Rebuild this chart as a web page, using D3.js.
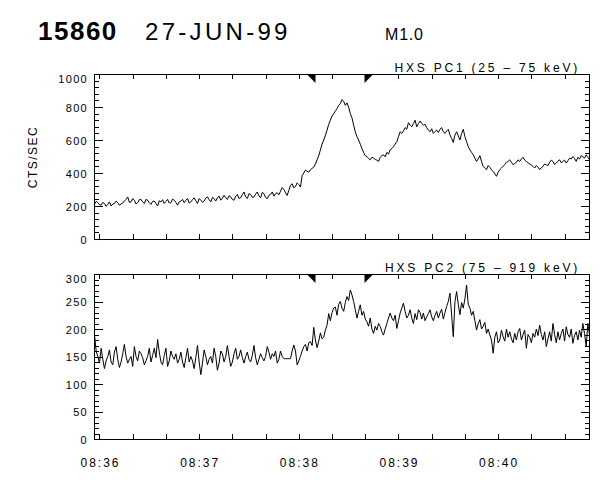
<!DOCTYPE html>
<html><head><meta charset="utf-8">
<script src="https://cdn.jsdelivr.net/npm/d3@7/dist/d3.min.js"></script>
<style>
body{margin:0;background:#fff}
text{font-family:"Liberation Sans",Arial,Helvetica,sans-serif;fill:#000}
</style>
</head><body>
<svg id="c" width="600" height="480"></svg>
<script>
// ---------------- data ----------------
const flareNumber = "15860";
const flareDate = "27-JUN-99";
const goesClass = "M1.0";
const yLabel = "CTS/SEC";
const panelTitles = ["HXS PC1 (25 \u2013 75 keV)", "HXS PC2 (75 \u2013 919 keV)"];
const dayStr = "1999-06-27";
const startTime = "08:35:57";      // time of first sample
const cadenceSec = 1;              // seconds between samples
const axisStart = "08:35:56.7";
const axisEnd = "08:40:54.7";
const xTickLabels = ["08:36", "08:37", "08:38", "08:39", "08:40"];
const markerTimes = ["08:38:10", "08:38:39"];
const pc1Ticks = [0, 200, 400, 600, 800, 1000];
const pc2Ticks = [0, 50, 100, 150, 200, 250, 300];

const pc1Counts = [
 210,228,220,208,205,222,215,198,210,225,200,212,215,230,220,205,212,218,230,240,
 255,222,225,245,235,212,220,238,240,225,215,240,235,220,210,228,230,215,200,232,
 225,238,215,228,240,218,220,242,235,222,205,225,230,240,220,235,245,218,225,238,
 250,232,215,245,235,222,230,248,255,238,225,252,245,230,250,260,235,248,265,250,
 240,262,255,240,235,258,270,245,250,268,285,255,245,275,270,252,255,272,285,262,
 250,282,275,252,245,265,270,285,260,275,280,268,290,312,300,280,264,295,325,335,
 310,318,340,330,315,385,400,418,410,405,420,428,435,455,480,505,540,575,600,628,
 660,695,720,745,760,775,790,810,820,845,835,810,825,800,760,735,690,650,620,600,
 575,548,525,505,500,488,480,495,490,482,478,470,495,505,510,498,525,515,540,548,
 560,575,590,620,650,640,655,675,665,705,690,680,700,720,680,700,715,700,690,695,
 675,660,650,668,640,652,660,645,665,675,650,640,655,665,630,610,585,630,650,625,
 600,640,665,620,590,560,540,525,510,490,470,485,505,470,440,430,420,445,435,420,
 410,395,380,405,420,430,440,452,465,470,480,465,450,458,465,480,470,485,495,478,
 470,462,455,448,440,430,445,435,420,432,440,455,450,445,465,478,470,452,460,472,
 480,462,470,478,460,475,490,485,500,488,470,495,485,505,500,490,510,495,480
];
const pc2Counts = [
 190,160,150,138,165,145,128,142,150,162,140,135,158,168,145,130,140,155,172,150,
 138,145,150,132,168,150,142,160,155,148,135,142,150,165,140,152,165,148,181,158,
 140,135,152,165,132,142,160,150,145,155,138,145,158,140,130,148,165,140,150,142,
 128,148,170,140,117,138,162,150,135,145,150,138,165,150,125,138,160,155,140,150,
 170,150,132,140,155,165,145,150,162,148,138,150,158,145,140,152,170,148,135,145,
 155,148,142,150,168,158,145,155,150,160,138,145,160,150,146,146,146,146,146,160,
 171,160,135,142,150,160,168,172,160,175,177,170,203,180,166,178,193,182,185,198,
 207,228,215,230,238,240,225,245,250,238,232,248,259,252,271,262,250,235,220,232,
 244,225,232,218,213,205,220,200,192,205,198,210,205,195,189,200,210,220,229,220,
 215,225,201,215,229,238,247,232,220,225,235,220,210,228,217,235,230,218,229,215,
 222,228,235,222,215,225,232,220,229,236,218,230,241,250,265,225,186,250,268,245,
 226,248,238,255,280,245,238,225,232,215,198,210,217,200,205,212,192,200,189,180,
 156,185,195,175,180,198,186,178,200,185,195,182,175,192,180,195,201,180,190,198,
 165,190,185,175,192,185,200,188,207,190,180,195,168,182,195,178,210,190,175,195,
 180,192,200,178,204,190,185,200,174,188,195,180,198,185,210,192,168,210,190
];

// ---------------- drawing ----------------
const svg = d3.select("#c");
const parseT = s => new Date(dayStr + "T" + (s.length === 5 ? s + ":00" : s) + "Z");
const t0 = parseT(startTime);
const timeAt = i => new Date(t0.getTime() + i * cadenceSec * 1000);

const left = 94, right = 589;
const x = d3.scaleUtc().domain([parseT(axisStart), parseT(axisEnd)]).range([left, right]);

const panels = [
  {data: pc1Counts, ticks: pc1Ticks, minor: 40, max: 1000, top: 74, bottom: 239, title: panelTitles[0]},
  {data: pc2Counts, ticks: pc2Ticks, minor: 10, max: 300, top: 274, bottom: 439, title: panelTitles[1]}
];

panels.forEach((p, pi) => {
  const y = d3.scaleLinear().domain([0, p.max]).range([p.bottom, p.top]);
  const g = svg.append("g");
  const minorVals = d3.range(0, p.max + 0.001, p.minor);

  const yl = g.append("g").attr("transform", `translate(${left},0)`)
    .call(d3.axisLeft(y).tickValues(minorVals).tickSize(-5).tickFormat(""));
  const ylM = g.append("g").attr("transform", `translate(${left},0)`)
    .call(d3.axisLeft(y).tickValues(p.ticks).tickSize(-9).tickPadding(15).tickFormat(d3.format("d")));
  const yr = g.append("g").attr("transform", `translate(${right},0)`)
    .call(d3.axisRight(y).tickValues(minorVals).tickSize(-4).tickFormat(""));
  const yrM = g.append("g").attr("transform", `translate(${right},0)`)
    .call(d3.axisRight(y).tickValues(p.ticks).tickSize(-8).tickFormat(""));

  const xb = g.append("g").attr("transform", `translate(0,${p.bottom})`)
    .call(d3.axisBottom(x).ticks(d3.utcSecond.every(20)).tickSize(-5).tickFormat(""));
  const xt = g.append("g").attr("transform", `translate(0,${p.top})`)
    .call(d3.axisTop(x).ticks(d3.utcSecond.every(20)).tickSize(-5).tickFormat(""));

  [yl, ylM, yr, yrM, xb, xt].forEach(a => {
    a.select(".domain").remove();
    a.selectAll("line").attr("stroke", "#000").attr("shape-rendering", "crispEdges");
  });
  ylM.selectAll("text")
    .attr("font-size", 11).attr("letter-spacing", 1.3)
    .attr("x", -6)
    .attr("dy", null).attr("dominant-baseline", "central")
    .attr("y", d => { const v = y(d); return Math.max(v, p.top + 4.5) - v; });

  g.append("rect").attr("x", left + 0.5).attr("y", p.top + 0.5)
    .attr("width", right - left).attr("height", p.bottom - p.top)
    .attr("fill", "none").attr("stroke", "#000").attr("shape-rendering", "crispEdges");

  g.append("path").datum(p.data)
    .attr("fill", "none").attr("stroke", "#000").attr("stroke-width", 1)
    .attr("d", d3.line().x((d, i) => x(timeAt(i))).y(d => y(d)));

  markerTimes.forEach((mt, mi) => {
    const mx = Math.round(x(parseT(mt))) + 0.5;
    const pts = mi === 0
      ? [[mx - 9, p.top], [mx, p.top], [mx, p.top + 9]]
      : [[mx, p.top], [mx + 9, p.top], [mx, p.top + 9]];
    g.append("path").attr("d", d3.line()(pts) + "Z").attr("fill", "#000");
  });

  g.append("text").attr("x", 580).attr("y", p.top - 2.5)
    .attr("text-anchor", "end").attr("font-size", 12).attr("letter-spacing", 2.8)
    .text(p.title);

  if (pi === 1) {
    g.selectAll(".tl").data(xTickLabels).enter().append("text")
      .attr("x", d => x(parseT(d)) + 1).attr("y", p.bottom + 28)
      .attr("text-anchor", "middle").attr("font-size", 12).attr("letter-spacing", 2)
      .text(d => d);
  }
});

svg.append("text").attr("transform", "translate(37,157) rotate(-90)")
  .attr("text-anchor", "middle").attr("font-size", 12).attr("letter-spacing", 1.5)
  .text(yLabel);

svg.append("text").attr("x", 38).attr("y", 40).attr("font-size", 26)
  .attr("font-weight", "bold").attr("letter-spacing", 1.5).text(flareNumber);
svg.append("text").attr("x", 145).attr("y", 40).attr("font-size", 24)
  .attr("letter-spacing", 3.3).text(flareDate);
svg.append("text").attr("x", 385).attr("y", 40).attr("font-size", 16)
  .attr("letter-spacing", 0.8).text(goesClass);
</script>
</body></html>
